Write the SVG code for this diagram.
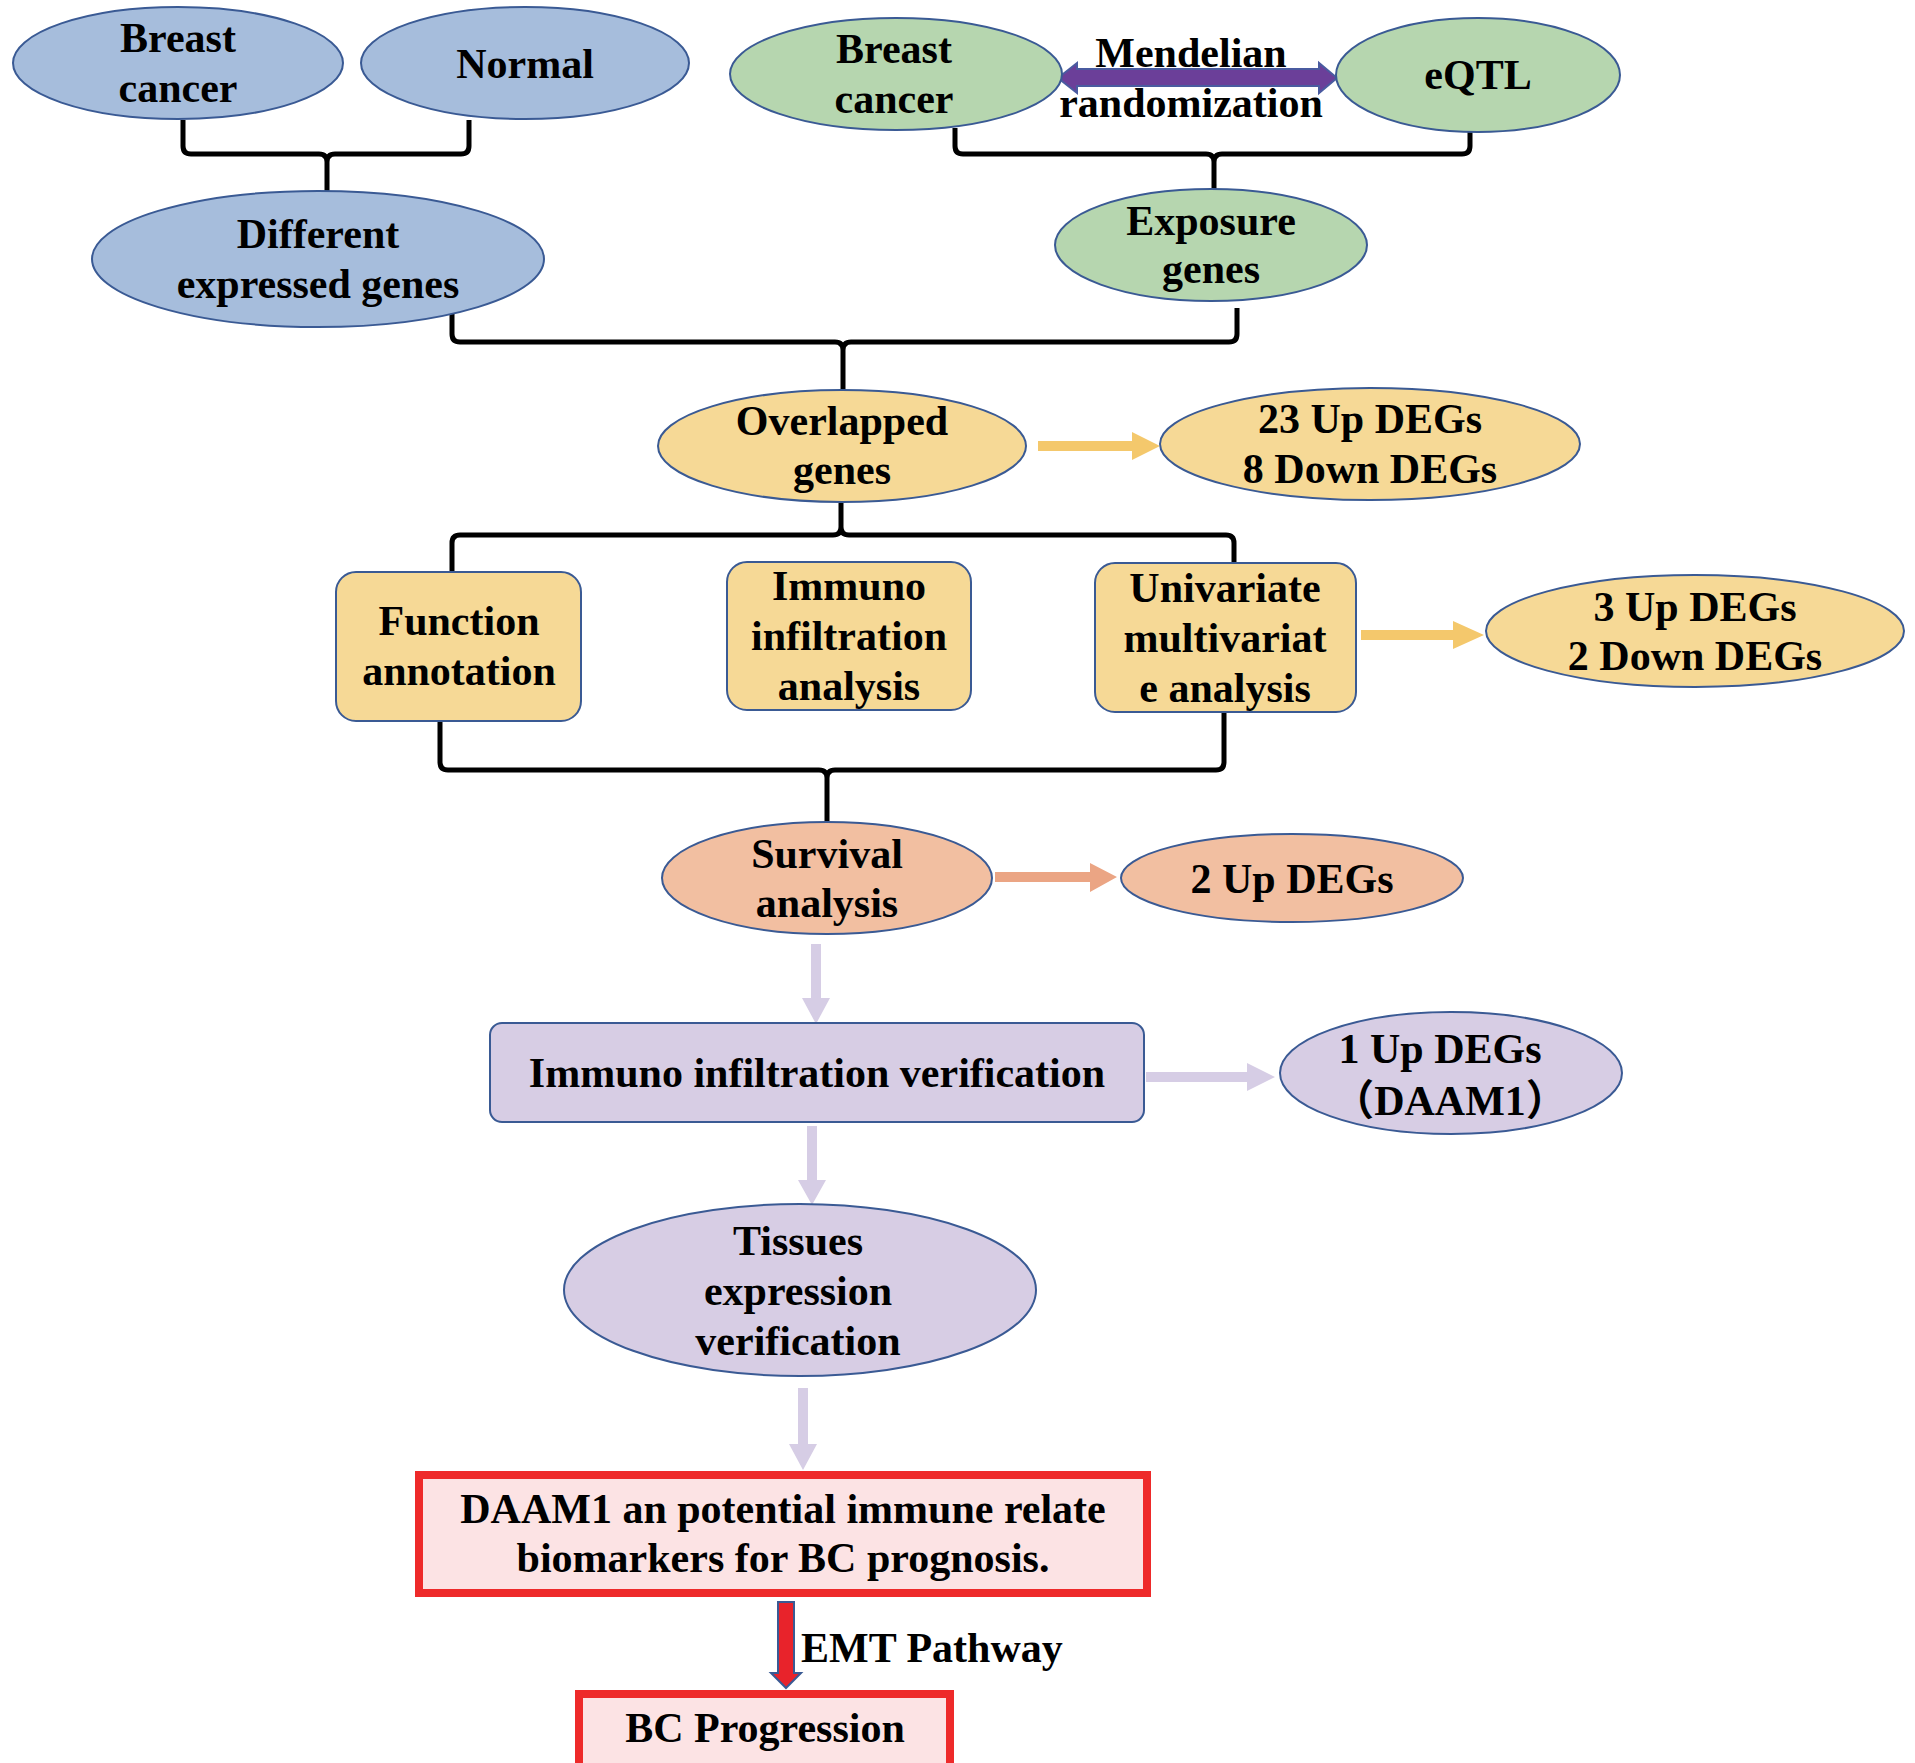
<svg xmlns="http://www.w3.org/2000/svg" width="1915" height="1763" viewBox="0 0 1915 1763">
<style>
text{font-family:"Liberation Serif","Times New Roman","Noto Sans CJK SC",serif;font-weight:bold;font-size:42px;fill:#000;text-anchor:middle}
.blue{fill:#A6BDDC;stroke:#3A5A94;stroke-width:2}
.green{fill:#B6D6AF;stroke:#3A5A94;stroke-width:2}
.yellow{fill:#F6D996;stroke:#3A5A94;stroke-width:2}
.peach{fill:#F2BFA1;stroke:#3A5A94;stroke-width:2}
.lav{fill:#D7CDE4;stroke:#3A5A94;stroke-width:2}
.red{fill:#FCE3E4;stroke:#EE2A2A;stroke-width:8}
.brace{fill:none;stroke:#000;stroke-width:5;stroke-linejoin:round}
.ay{fill:#F4C86C}
.ao{fill:#EBA584}
.al{fill:#D6CDE5}
</style>
<rect width="1915" height="1763" fill="#fff"/>
<g id="connectors">
  <!-- braces -->
  <path class="brace" d="M183 120 L183 146 Q183 154 191 154 L319 154 Q327 154 327 162 L327 191 M469 120 L469 146 Q469 154 461 154 L335 154 Q327 154 327 162"/>
  <path class="brace" d="M955 128 L955 146 Q955 154 963 154 L1206 154 Q1214 154 1214 162 L1214 189 M1470 119 L1470 146 Q1470 154 1462 154 L1222 154 Q1214 154 1214 162"/>
  <path class="brace" d="M452 311 L452 334 Q452 342 460 342 L835 342 Q843 342 843 350 L843 392 M1237 308 L1237 334 Q1237 342 1229 342 L851 342 Q843 342 843 350"/>
  <path class="brace" d="M841 503 L841 527 Q841 535 833 535 L460 535 Q452 535 452 543 L452 572 M841 527 Q841 535 849 535 L1226 535 Q1234 535 1234 543 L1234 562"/>
  <path class="brace" d="M440 721 L440 762 Q440 770 448 770 L819 770 Q827 770 827 778 L827 822 M1224 712 L1224 762 Q1224 770 1216 770 L835 770 Q827 770 827 778"/>
  <!-- purple double arrow -->
  <polygon points="1058,78 1077,63 1077,69 1319,69 1319,63 1337,78 1319,93 1319,86 1077,86 1077,93" fill="#6B3F99" stroke="#4A5BA0" stroke-width="2"/>
  <!-- yellow arrows -->
  <polygon class="ay" points="1038,441 1132,441 1132,432 1160,446 1132,460 1132,451 1038,451"/>
  <polygon class="ay" points="1361,630 1453,630 1453,621 1484,635 1453,649 1453,640 1361,640"/>
  <!-- orange arrow -->
  <polygon class="ao" points="995,872 1090,872 1090,863 1117,877 1090,892 1090,882 995,882"/>
  <!-- lavender arrows -->
  <polygon class="al" points="811,944 821,944 821,998 830,998 816,1024 802,998 811,998"/>
  <polygon class="al" points="1146,1072 1247,1072 1247,1063 1275,1077 1247,1091 1247,1082 1146,1082"/>
  <polygon class="al" points="807,1126 817,1126 817,1180 826,1180 812,1205 798,1180 807,1180"/>
  <polygon class="al" points="798,1388 808,1388 808,1444 817,1444 803,1470 789,1444 798,1444"/>
  <!-- red arrow -->
  <polygon points="778,1602 794,1602 794,1673 801,1673 786,1688 771,1673 778,1673" fill="#E8232B" stroke="#3A5A94" stroke-width="2"/>
</g>
<g id="n-breast-cancer-1"><ellipse class="blue" cx="178" cy="63" rx="165" ry="56"/><text x="178" y="52">Breast</text><text x="178" y="102">cancer</text></g>
<g id="n-normal"><ellipse class="blue" cx="525" cy="63" rx="164" ry="56"/><text x="525" y="78">Normal</text></g>
<g id="n-deg"><ellipse class="blue" cx="318" cy="259" rx="226" ry="68"/><text x="318" y="248">Different</text><text x="318" y="298">expressed genes</text></g>
<g id="n-breast-cancer-2"><ellipse class="green" cx="896" cy="74" rx="166" ry="56"/><text x="894" y="63">Breast</text><text x="894" y="113">cancer</text></g>
<g id="n-eqtl"><ellipse class="green" cx="1478" cy="75" rx="142" ry="57"/><text x="1478" y="89">eQTL</text></g>
<g id="n-mr-label"><text x="1191" y="67">Mendelian</text><text x="1191" y="117">randomization</text></g>
<g id="n-exposure"><ellipse class="green" cx="1211" cy="245" rx="156" ry="56"/><text x="1211" y="235">Exposure</text><text x="1211" y="283">genes</text></g>
<g id="n-overlapped"><ellipse class="yellow" cx="842" cy="446" rx="184" ry="56"/><text x="842" y="435">Overlapped</text><text x="842" y="484">genes</text></g>
<g id="n-23up"><ellipse class="yellow" cx="1370" cy="444" rx="210" ry="56"/><text x="1370" y="433">23 Up DEGs</text><text x="1370" y="483">8 Down DEGs</text></g>
<g id="n-function"><rect class="yellow" x="336" y="572" width="245" height="149" rx="20"/><text x="459" y="635">Function</text><text x="459" y="685">annotation</text></g>
<g id="n-immuno"><rect class="yellow" x="727" y="562" width="244" height="148" rx="20"/><text x="849" y="600">Immuno</text><text x="849" y="650">infiltration</text><text x="849" y="700">analysis</text></g>
<g id="n-univariate"><rect class="yellow" x="1095" y="563" width="261" height="149" rx="20"/><text x="1225" y="602">Univariate</text><text x="1225" y="652">multivariat</text><text x="1225" y="702">e analysis</text></g>
<g id="n-3up"><ellipse class="yellow" cx="1695" cy="631" rx="209" ry="56"/><text x="1695" y="621">3 Up DEGs</text><text x="1695" y="670">2 Down DEGs</text></g>
<g id="n-survival"><ellipse class="peach" cx="827" cy="878" rx="165" ry="56"/><text x="827" y="868">Survival</text><text x="827" y="917">analysis</text></g>
<g id="n-2up"><ellipse class="peach" cx="1292" cy="878" rx="171" ry="44"/><text x="1292" y="893">2 Up DEGs</text></g>
<g id="n-immuno-verif"><rect class="lav" x="490" y="1023" width="654" height="99" rx="12"/><text x="817" y="1087">Immuno infiltration verification</text></g>
<g id="n-1up"><ellipse class="lav" cx="1451" cy="1073" rx="171" ry="61"/><text x="1440" y="1063">1 Up DEGs</text><text x="1450" y="1115">（DAAM1）</text></g>
<g id="n-tissues"><ellipse class="lav" cx="800" cy="1290" rx="236" ry="86"/><text x="798" y="1255">Tissues</text><text x="798" y="1305">expression</text><text x="798" y="1355">verification</text></g>
<g id="n-daam1"><rect class="red" x="419" y="1475" width="728" height="118"/><text x="783" y="1523">DAAM1 an potential immune relate</text><text x="783" y="1572">biomarkers for BC prognosis.</text></g>
<g id="n-emt-label"><text x="801" y="1662" style="text-anchor:start">EMT Pathway</text></g>
<g id="n-bc-progression"><rect class="red" x="579" y="1694" width="371" height="100"/><text x="765" y="1742">BC Progression</text></g>
</svg>
